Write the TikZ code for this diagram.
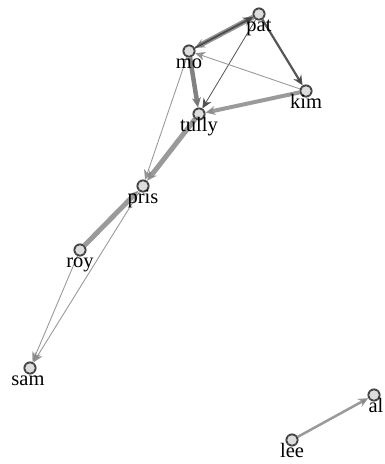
\documentclass[tikz,border=0pt]{standalone}
\usepackage{fontspec}
\setmainfont{Liberation Serif}
\usetikzlibrary{arrows.meta}
\definecolor{vfill}{HTML}{DDDDDD}
\definecolor{vline}{HTML}{444444}
\definecolor{egray}{HTML}{888888}
\definecolor{edark}{HTML}{444444}
\begin{document}
\begin{tikzpicture}[x=1pt,y=-1pt,
  vertex/.style={circle,draw=vline,fill=vfill,line width=1.1pt,minimum size=12pt,inner sep=0pt},
  lbl/.style={anchor=base,inner sep=0pt,font=\fontsize{20.5}{20.5}\selectfont},
  link/.style={draw=egray,opacity=0.85,-{Stealth[length=10pt,width=9pt]}},
  darklink/.style={draw=edark,opacity=0.9,-{Stealth[length=10pt,width=9pt]}}]
\useasboundingbox (0,0) rectangle (385,464);
% vertices
\node[vertex] (pat) at (259,14) {};
\node[vertex] (mo) at (189,51) {};
\node[vertex] (kim) at (306,91) {};
\node[vertex] (tully) at (199,114) {};
\node[vertex] (pris) at (143,186) {};
\node[vertex] (roy) at (80,250) {};
\node[vertex] (sam) at (30,368) {};
\node[vertex] (al) at (374,395) {};
\node[vertex] (lee) at (292,440) {};
% edges
\draw[link,line width=5pt,draw=black!50] (pat) -- (mo);
\draw[darklink,line width=1.8pt] (mo) -- (pat);
\draw[darklink,line width=2.2pt] (pat) -- (kim);
\draw[darklink,line width=0.8pt] (pat) -- (tully);
\draw[link,line width=0.9pt] (kim) -- (mo);
\draw[link,line width=4pt] (kim) -- (tully);
\draw[darklink,line width=4.5pt,draw=black!55] (mo) -- (tully);
\draw[link,line width=0.9pt] (mo) -- (pris);
\draw[link,line width=5pt] (tully) -- (pris);
\draw[link,line width=5pt] (roy) -- (pris);
\draw[link,line width=0.9pt] (pris) -- (sam);
\draw[link,line width=0.9pt] (roy) -- (sam);
\draw[link,line width=2.5pt] (lee) -- (al);
% redraw vertices on top
\foreach \v in {pat,mo,kim,tully,pris,roy,sam,al,lee}
  \fill[vfill] (\v) circle (5.4pt);
\foreach \v in {pat,mo,kim,tully,pris,roy,sam,al,lee}
  \draw[vline,line width=1.1pt] (\v) circle (5.45pt);
% labels
\node[lbl] (patl) at (259,31) {pat};
\node[lbl] (mol) at (189,68) {mo};
\node[lbl] (kiml) at (306,108) {kim};
\node[lbl] (tullyl) at (199,131) {tully};
\node[lbl] (prisl) at (143,203) {pris};
\node[lbl] (royl) at (80,267) {roy};
\node[lbl] (saml) at (28,385) {sam};
\node[lbl] (all) at (376,412) {al};
\node[lbl] (leel) at (292,457) {lee};
\end{tikzpicture}
\end{document}
